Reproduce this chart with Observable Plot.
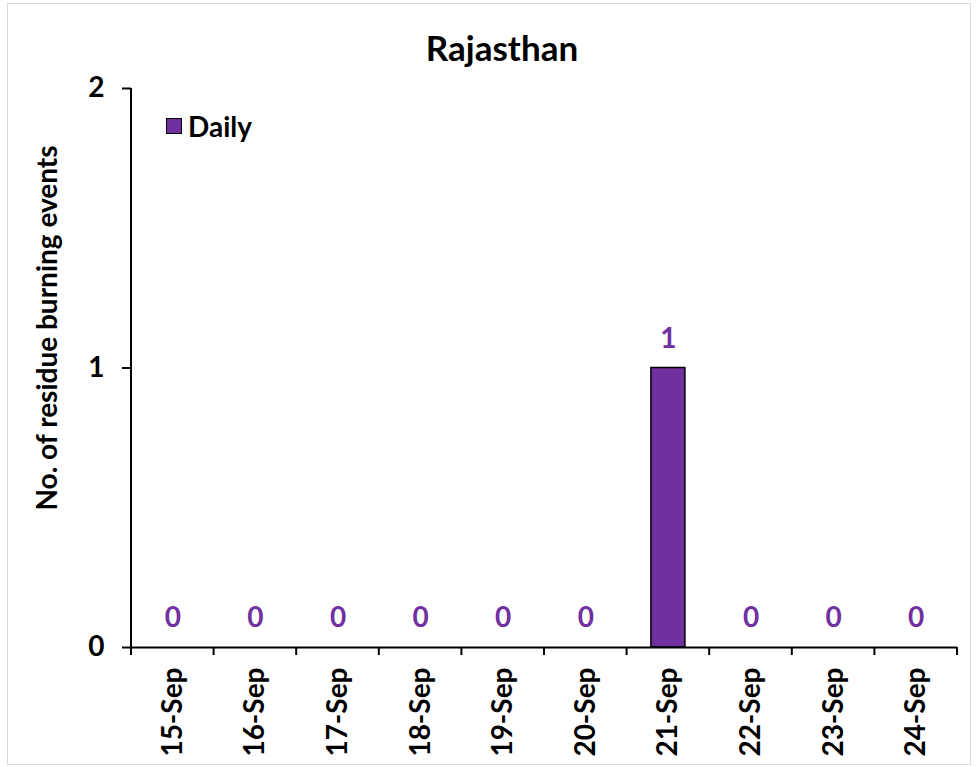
<!DOCTYPE html>
<html>
<head>
<meta charset="utf-8">
<script src="https://cdn.jsdelivr.net/npm/d3@7"></script>
<script src="https://cdn.jsdelivr.net/npm/@observablehq/plot@0.6"></script>
<style>
  html, body { margin: 0; padding: 0; background: #fff; }
  #wrap { position: relative; width: 978px; height: 767px; overflow: hidden; font-family: Lato, "Open Sans", sans-serif; font-weight: bold; color: #000; }
  #border { position: absolute; left: 7px; top: 3px; width: 964px; height: 762px; border: 1px solid #d9d9d9; box-sizing: border-box; }
  #chart { position: absolute; left: 0; top: 0; }
  #title { position: absolute; left: 0; width: 1004px; top: 30px; text-align: center; font-size: 35px; line-height: 35px; }
  #ylabel { position: absolute; left: 46px; top: 328px; transform: translate(-50%, -50%) rotate(-90deg); white-space: nowrap; font-size: 28px; line-height: 28px; }
  #legend { position: absolute; left: 166px; top: 112px; display: flex; align-items: center; font-size: 28px; line-height: 28px; }
  #legend .sw { width: 14px; height: 14px; background: #7030A0; border: 1.5px solid #000; margin-right: 6px; }
</style>
</head>
<body>
<div id="wrap">
  <div id="border"></div>
  <div id="chart"></div>
  <div id="title"></div>
  <div id="ylabel"></div>
  <div id="legend"><div class="sw"></div><span id="legtext"></span></div>
</div>
<script>
const title = "Rajasthan";
const yLabel = "No. of residue burning events";
const seriesName = "Daily";
const dates = ["15-Sep", "16-Sep", "17-Sep", "18-Sep", "19-Sep", "20-Sep", "21-Sep", "22-Sep", "23-Sep", "24-Sep"];
const daily = [0, 0, 0, 0, 0, 0, 1, 0, 0, 0];
const yTicks = [0, 1, 2];

const barColor = "#7030A0";
const data = dates.map((d, i) => ({date: d, value: daily[i]}));

document.getElementById("title").textContent = title;
document.getElementById("ylabel").textContent = yLabel;
document.getElementById("legtext").textContent = seriesName;

// boundary ticks between categories + left axis line, drawn from the x scale
function boundaryTicks(index, scales, values, dimensions) {
  const sx = scales.x;
  const {width, marginLeft, marginRight} = dimensions;
  const step = typeof sx.step === "function" ? sx.step() : (width - marginLeft - marginRight) / dates.length;
  const xs = dates.map(d => sx(d));
  xs.push(sx(dates[dates.length - 1]) + step);
  const y0 = scales.y(0);
  const g = d3.create("svg:g").attr("stroke", "#000").attr("stroke-width", 2);
  g.selectAll("line.t").data(xs).join("line")
    .attr("x1", d => d).attr("x2", d => d)
    .attr("y1", y0).attr("y2", y0 + 8);
  g.append("line")
    .attr("x1", marginLeft).attr("x2", marginLeft)
    .attr("y1", scales.y(yTicks[yTicks.length - 1])).attr("y2", y0);
  return g.node();
}

const chart = Plot.plot({
  width: 978,
  height: 767,
  marginLeft: 131,
  marginRight: 21,
  marginTop: 88,
  marginBottom: 120,
  style: {fontFamily: "Lato, 'Open Sans', sans-serif", fontWeight: "bold", fontSize: "28px", color: "#000", background: "transparent"},
  x: {type: "band", domain: dates, padding: 0, round: false},
  y: {domain: [0, 2]},
  marks: [
    Plot.barY(data, {x: "date", y: "value", fill: barColor, stroke: "#000", strokeWidth: 1.5, insetLeft: 24.3, insetRight: 24.3}),
    Plot.text(data, {x: "date", y: "value", text: d => String(d.value), dy: -29, fill: barColor, fontSize: 28, fontWeight: "bold"}),
    Plot.ruleY([0], {stroke: "#000", strokeWidth: 2}),
    Plot.axisY({ticks: yTicks, tickSize: 9, tickPadding: 18, tickFormat: d3.format("d"), label: null, strokeWidth: 2, fontSize: 28}),
    Plot.axisX({tickSize: 0, tickPadding: 20, tickRotate: -90, label: null, fontSize: 28}),
    boundaryTicks
  ]
});
document.getElementById("chart").appendChild(chart);
</script>
</body>
</html>
